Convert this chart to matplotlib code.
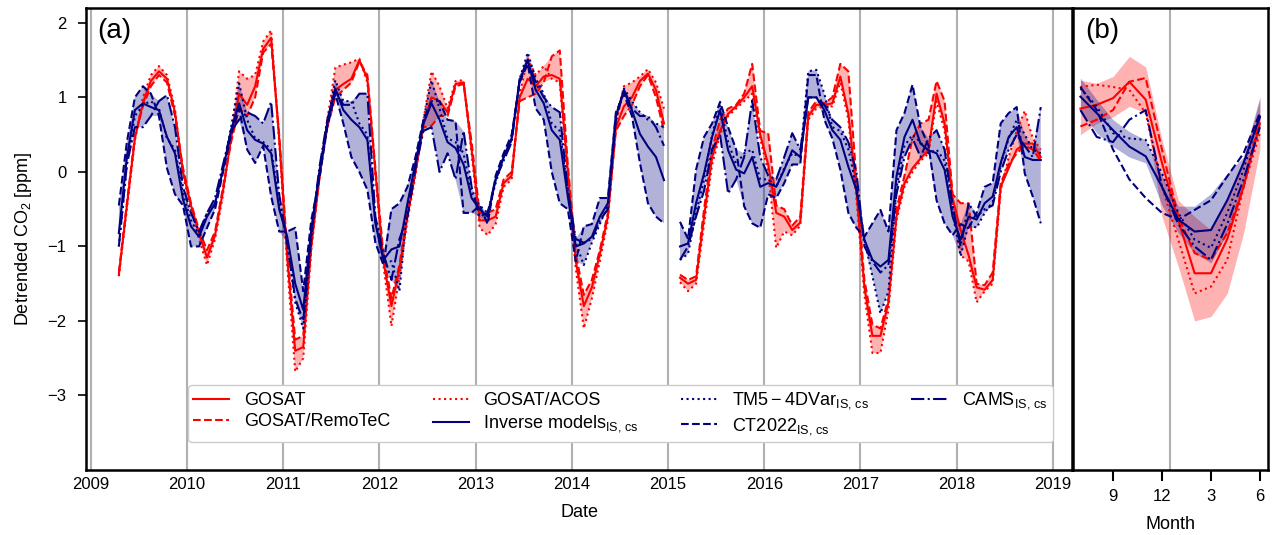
import numpy as np
import pandas as pd
import matplotlib
matplotlib.use("Agg")
import matplotlib.pyplot as plt

plt.rcParams['font.family'] = ['Liberation Sans', 'DejaVu Sans']
plt.rcParams['mathtext.fontset'] = 'custom'
plt.rcParams['mathtext.rm'] = 'Liberation Sans'
plt.rcParams['mathtext.it'] = 'Liberation Sans:italic'

# monthly values Apr 2009 .. Nov 2018 (Jan 2015 missing)
dates = pd.date_range('2009-04-01', '2018-11-01', freq='MS')

gosat = [-1.38, -0.45, 0.45, 0.92, 1.22, 1.35, 1.25, 0.8, 0.0,
         -0.45, -0.82, -1.15, -0.85, -0.25, 0.45, 1.05, 0.9, 1.15, 1.65, 1.8, 0.45,
         -1.15, -2.4, -2.35, -1.0, -0.1, 0.65, 1.1, 1.18, 1.25, 1.5, 1.25, 0.0,
         -1.2, -1.8, -1.3, -0.6, 0.0, 0.65, 1.0, 0.95, 0.8, 1.18, 1.2, 0.3,
         -0.65, -0.65, -0.6, -0.15, -0.05, 1.0, 1.25, 1.15, 1.28, 1.3, 1.25, 0.0,
         -1.2, -1.8, -1.55, -1.1, -0.6, 0.6, 0.88, 1.0, 1.22, 1.32, 1.1, 0.65,
         np.nan, -1.42, -1.5, -1.45, -0.6, 0.2, 0.55, 0.78, 0.88, 1.0, 1.15, 0.5,
         0.1, -0.55, -0.6, -0.78, -0.68, 0.75, 0.9, 0.9, 0.92, 1.28, 0.78, -0.25,
         -1.55, -2.2, -2.2, -1.75, -0.6, -0.15, 0.05, 0.18, 0.3, 1.05, 0.65, -0.35,
         -0.78, -1.12, -1.55, -1.58, -1.45, -0.2, 0.05, 0.3, 0.38, 0.38, 0.2]
remotec = [-1.35, -0.42, 0.48, 0.88, 1.15, 1.3, 1.2, 0.75, 0.05,
           -0.42, -0.78, -1.05, -0.8, -0.2, 0.4, 0.85, 0.75, 1.0, 1.6, 1.72, 0.5,
           -1.05, -2.25, -2.2, -0.95, -0.05, 0.6, 1.0, 1.1, 1.2, 1.48, 1.3, 0.05,
           -1.1, -1.7, -1.25, -0.55, 0.05, 0.6, 0.62, 0.75, 0.75, 1.15, 1.18, 0.4,
           -0.55, -0.55, -0.5, -0.1, 0.0, 0.95, 1.0, 1.05, 1.2, 1.55, 1.63, 0.1,
           -1.1, -1.65, -1.45, -1.05, -0.55, 0.55, 0.75, 0.9, 1.15, 1.3, 1.0, 0.55,
           np.nan, -1.38, -1.45, -1.4, -0.5, 0.3, 0.7, 0.85, 0.9, 1.05, 1.45, 0.55,
           0.52, -0.45, -0.5, -0.72, -0.6, 0.8, 0.95, 0.92, 1.0, 1.45, 1.35, -0.1,
           -1.45, -2.05, -2.1, -1.7, -0.5, -0.05, 0.45, 0.65, 0.7, 1.22, 0.95, -0.3,
           -0.42, -0.42, -1.5, -1.52, -1.35, -0.15, 0.1, 0.25, 0.35, 0.3, 0.15]
acos = [-1.4, -0.5, 0.42, 1.0, 1.3, 1.42, 1.3, 0.85, -0.05,
        -0.5, -0.9, -1.25, -0.9, -0.3, 0.5, 1.35, 1.25, 1.3, 1.75, 1.9, 0.4,
        -1.25, -2.68, -2.5, -1.05, -0.1, 0.7, 1.4, 1.44, 1.47, 1.52, 1.2, -0.05,
        -1.25, -2.07, -1.4, -0.65, -0.05, 0.7, 1.35, 1.15, 0.85, 1.22, 1.23, 0.25,
        -0.75, -0.85, -0.7, -0.2, -0.1, 1.05, 1.52, 1.3, 1.42, 1.25, 1.2, -0.05,
        -1.3, -2.1, -1.7, -1.2, -0.65, 0.65, 1.15, 1.2, 1.28, 1.38, 1.2, 0.85,
        np.nan, -1.48, -1.6, -1.5, -0.7, 0.1, 0.5, 0.75, 0.85, 0.95, 1.05, 0.45,
        0.0, -1.02, -0.8, -0.85, -0.72, 0.7, 0.85, 0.88, 0.88, 1.2, 0.7, -0.35,
        -1.65, -2.43, -2.43, -1.85, -0.65, -0.2, 0.0, 0.15, 0.25, 0.95, 0.55, -0.4,
        -1.12, -1.2, -1.75, -1.6, -1.5, -0.25, 0.2, 0.55, 0.82, 0.45, 0.3]
inverse = [-0.82, 0.2, 0.83, 0.92, 0.87, 0.83, 0.47, 0.25, -0.37,
           -0.73, -0.87, -0.6, -0.42, 0.03, 0.56, 0.92, 0.56, 0.43, 0.38, 0.25, -0.5,
           -0.87, -1.5, -1.85, -0.78, -0.02, 0.65, 1.12, 0.83, 0.7, 0.6, 0.43, -0.69,
           -1.18, -1.04, -1.0, -0.42, 0.12, 0.65, 0.92, 0.7, 0.4, 0.32, 0.1, -0.35,
           -0.5, -0.6, -0.1, 0.2, 0.45, 1.23, 1.5, 1.1, 0.92, 0.56, 0.43, -0.33,
           -1.0, -0.96, -0.87, -0.6, -0.42, 0.74, 1.1, 0.83, 0.51, 0.34, 0.2, -0.11,
           np.nan, -1.0, -0.96, -0.42, -0.02, 0.47, 0.83, 0.29, 0.03, -0.02, 0.2, -0.2,
           -0.15, -0.2, 0.03, 0.29, 0.2, 1.0, 1.0, 0.83, 0.56, 0.43, 0.07, -0.24,
           -0.91, -1.18, -1.27, -1.18, -0.06, 0.47, 0.7, 0.38, 0.29, 0.25, 0.03, -0.6,
           -0.91, -0.6, -0.64, -0.42, -0.33, 0.12, 0.47, 0.6, 0.2, 0.16, 0.16]
tm5 = [-1.0, 0.1, 0.75, 0.9, 0.95, 0.85, 0.45, 0.3, -0.3,
       -0.65, -0.85, -0.55, -0.45, 0.05, 0.6, 1.19, 0.7, 0.45, 0.4, 0.3, -0.4,
       -0.95, -1.75, -2.1, -0.9, 0.0, 0.65, 1.23, 0.95, 0.95, 0.65, 0.5, -0.65,
       -1.2, -1.2, -1.6, -0.45, 0.1, 0.7, 1.23, 0.85, 0.45, 0.4, 0.25, -0.3,
       -0.45, -0.55, -0.15, 0.2, 0.43, 1.25, 1.6, 1.25, 1.05, 0.65, 0.55, -0.25,
       -0.95, -1.25, -0.95, -0.7, -0.45, 0.75, 1.12, 0.95, 0.8, 0.7, 0.65, 0.6,
       np.nan, -1.18, -1.1, -0.55, -0.1, 0.5, 0.9, 0.4, 0.1, 0.25, 0.3, -0.1,
       -0.1, -0.2, 0.05, 0.25, 0.2, 1.35, 1.37, 1.05, 0.6, 0.55, 0.3, -0.2,
       -0.9, -1.4, -1.9, -1.6, -0.2, 0.35, 0.5, 0.4, 0.25, 0.3, 0.15, -0.55,
       -1.13, -0.7, -0.75, -0.55, -0.4, 0.1, 0.45, 0.7, 0.5, 0.3, 0.25]
ct2022 = [-0.45, 0.4, 1.0, 1.15, 1.05, 0.75, 0.05, -0.3, -0.45,
          -1.0, -1.0, -0.75, -0.5, 0.0, 0.5, 0.85, 0.3, 0.12, 0.35, -0.33, -0.8,
          -0.8, -0.75, -1.6, -0.65, -0.1, 0.6, 1.05, 0.65, 0.2, 0.0, -0.24, -0.95,
          -1.25, -0.5, -0.42, -0.2, 0.2, 0.7, 0.95, 0.95, 0.7, 0.68, -0.55, -0.55,
          -0.45, -0.7, -0.05, 0.25, 0.5, 1.2, 1.45, 0.85, 0.7, 0.0, -0.42, -0.5,
          -1.2, -0.73, -0.7, -0.35, -0.35, 0.8, 1.05, 0.75, 0.12, -0.42, -0.6, -0.69,
          np.nan, -0.67, -0.9, 0.03, 0.47, 0.65, 0.94, 0.6, 0.3, -0.46, -0.69, -0.75,
          -0.3, -0.35, -0.15, 0.1, 0.1, 1.3, 1.3, 0.7, 0.45, 0.03, -0.55, -0.75,
          -0.87, -0.69, -0.51, -0.8, 0.56, 0.79, 1.17, 0.6, 0.35, -0.38, -0.69, -0.85,
          -0.7, -0.75, -0.55, -0.2, -0.15, 0.65, 0.79, 0.87, -0.02, -0.33, -0.69]
cams = [-1.0, 0.1, 0.6, 0.6, 0.75, 0.95, 1.03, 0.6, -0.2,
        -0.55, -0.8, -0.55, -0.35, 0.1, 0.55, 0.7, 0.8, 0.75, 0.65, 0.94, -0.3,
        -0.95, -1.7, -2.0, -0.85, 0.05, 0.7, 1.1, 0.9, 0.9, 1.05, 1.05, -0.6,
        -1.1, -1.45, -0.9, -0.6, 0.05, 0.55, 0.6, 0.0, 0.25, -0.1, 0.55, -0.2,
        -0.6, -0.55, -0.1, 0.15, 0.4, 1.25, 1.5, 1.2, 1.0, 0.87, 0.8, -0.25,
        -0.9, -0.95, -0.9, -0.65, -0.5, 0.7, 1.1, 0.85, 0.75, 0.75, 0.6, 0.35,
        np.nan, -1.18, -1.0, -0.6, -0.25, 0.3, 0.5, -0.29, -0.1, 0.2, 0.96, 0.2,
        -0.05, -0.1, 0.2, 0.52, 0.3, 1.0, 1.0, 0.9, 0.7, 0.6, 0.4, 0.0,
        -1.0, -1.2, -1.35, -1.25, -0.3, 0.2, 0.45, 0.2, 0.45, 0.56, 0.3, -0.45,
        -1.0, -0.42, -0.6, -0.5, -0.45, 0.0, 0.3, 0.5, 0.35, 0.2, 0.87]

# mean seasonal cycle, July .. June
b_months = [7, 8, 9, 10, 11, 12, 1, 2, 3, 4, 5, 6]
b_gosat = [0.85, 0.9, 0.99, 1.21, 0.97, 0.12, -0.65, -1.36, -1.36, -0.9, -0.2, 0.65]
b_remotec = [0.61, 0.7, 0.83, 1.21, 1.26, 0.3, -0.6, -1.09, -1.18, -0.82, -0.2, 0.74]
b_acos = [1.14, 1.17, 1.14, 1.1, 0.79, -0.2, -0.91, -1.63, -1.54, -1.18, -0.2, 0.52]
b_red_lo = [0.5, 0.65, 0.74, 0.88, 0.79, -0.6, -1.27, -2.0, -1.94, -1.63, -0.82, 0.3]
b_red_hi = [1.23, 1.19, 1.28, 1.55, 1.41, 0.43, -0.38, -0.6, -0.78, -0.38, 0.2, 0.97]
b_inverse = [1.01, 0.79, 0.56, 0.34, 0.21, -0.2, -0.64, -0.8, -0.78, -0.38, 0.12, 0.74]
b_tm5 = [1.12, 0.88, 0.52, 0.45, 0.43, -0.02, -0.55, -0.91, -1.02, -0.55, 0.03, 0.79]
b_ct2022 = [1.14, 0.83, 0.3, -0.1, -0.35, -0.55, -0.64, -0.51, -0.38, -0.06, 0.25, 0.79]
b_cams = [0.83, 0.47, 0.4, 0.7, 0.83, -0.2, -0.7, -1.0, -1.18, -0.7, -0.1, 0.6]
b_blue_lo = [0.83, 0.52, 0.34, 0.2, 0.12, -0.45, -0.82, -1.09, -1.22, -0.82, -0.2, 0.6]
b_blue_hi = [1.26, 0.97, 0.7, 0.54, 0.43, -0.05, -0.46, -0.46, -0.29, -0.02, 0.2, 1.01]

RED = 'red'
BLUE = 'navy'

t = dates.year + (dates.month - 0.5) / 12.0
remotec_a = np.array(remotec)
acos_a = np.array(acos)
models = np.vstack([tm5, ct2022, cams])

fig = plt.figure(figsize=(12.72, 5.35), dpi=100)
ax = fig.add_axes([0.0676, 0.1215, 0.7752, 0.8636])
axb = fig.add_axes([0.8436, 0.1215, 0.1533, 0.8636])

# panel (a)
ax.fill_between(t, np.minimum(remotec_a, acos_a), np.maximum(remotec_a, acos_a),
                color=RED, alpha=0.3, lw=0)
ax.fill_between(t, models.min(axis=0), models.max(axis=0), color=BLUE, alpha=0.3, lw=0)
ax.plot(t, gosat, color=RED, ls='-', lw=1.5, label='GOSAT')
ax.plot(t, remotec, color=RED, ls='--', lw=1.5, label='GOSAT/RemoTeC')
ax.plot(t, acos, color=RED, ls=':', lw=1.5, label='GOSAT/ACOS')
ax.plot(t, inverse, color=BLUE, ls='-', lw=1.5, label=r'Inverse models$_{\mathrm{IS,\,cs}}$')
ax.plot(t, tm5, color=BLUE, ls=':', lw=1.5, label=r'$\mathrm{TM5-4DVar}_{\mathrm{IS,\,cs}}$')
ax.plot(t, ct2022, color=BLUE, ls='--', lw=1.5, label=r'$\mathrm{CT2022}_{\mathrm{IS,\,cs}}$')
ax.plot(t, cams, color=BLUE, ls='-.', lw=1.5, label=r'$\mathrm{CAMS}_{\mathrm{IS,\,cs}}$')

ax.set_xlim(2008.95, 2019.2)
ax.set_ylim(-4.0, 2.2)
ax.set_xticks(range(2009, 2020))
ax.set_yticks([-3, -2, -1, 0, 1, 2])
ax.grid(axis='x', color='#b0b0b0', lw=1.5)
ax.set_axisbelow(True)
ax.tick_params(axis='x', length=0, labelsize=12, pad=5)
ax.tick_params(axis='y', length=6, width=1.2, labelsize=12, pad=8)
ax.set_xlabel('Date', fontsize=13, labelpad=9)
ax.set_ylabel(r'Detrended CO$_2$ [ppm]', fontsize=13, labelpad=10)
ax.text(0.011, 0.978, '(a)', transform=ax.transAxes, fontsize=20, va='top', ha='left')
ax.legend(ncol=4, loc='lower left', bbox_to_anchor=(0.1034, 0.06, 0.877, 0.11),
          mode='expand', fontsize=13, borderaxespad=0, borderpad=0.3,
          labelspacing=0.25, framealpha=1, edgecolor='#cccccc')

# panel (b)
xb = np.arange(len(b_months))
axb.fill_between(xb, b_red_lo, b_red_hi, color=RED, alpha=0.3, lw=0)
axb.fill_between(xb, b_blue_lo, b_blue_hi, color=BLUE, alpha=0.3, lw=0)
axb.plot(xb, b_gosat, color=RED, ls='-', lw=1.5)
axb.plot(xb, b_remotec, color=RED, ls='--', lw=1.5)
axb.plot(xb, b_acos, color=RED, ls=':', lw=1.5)
axb.plot(xb, b_inverse, color=BLUE, ls='-', lw=1.5)
axb.plot(xb, b_tm5, color=BLUE, ls=':', lw=1.5)
axb.plot(xb, b_ct2022, color=BLUE, ls='--', lw=1.5)
axb.plot(xb, b_cams, color=BLUE, ls='-.', lw=1.5)
axb.axvline(5.5, color='#b0b0b0', lw=1.5, zorder=0)
axb.set_xlim(-0.45, 11.5)
axb.set_ylim(-4.0, 2.2)
axb.set_xticks(xb[2::3])
axb.set_xticklabels([str(m) for m in b_months[2::3]])
axb.set_yticks([])
axb.tick_params(axis='x', length=8, width=1.5, labelsize=12, pad=6)
axb.set_xlabel('Month', fontsize=13, labelpad=8)
axb.text(0.06, 0.978, '(b)', transform=axb.transAxes, fontsize=20, va='top', ha='left')

for a in (ax, axb):
    for s in a.spines.values():
        s.set_linewidth(1.8)

fig.savefig('out.png', dpi=100)
